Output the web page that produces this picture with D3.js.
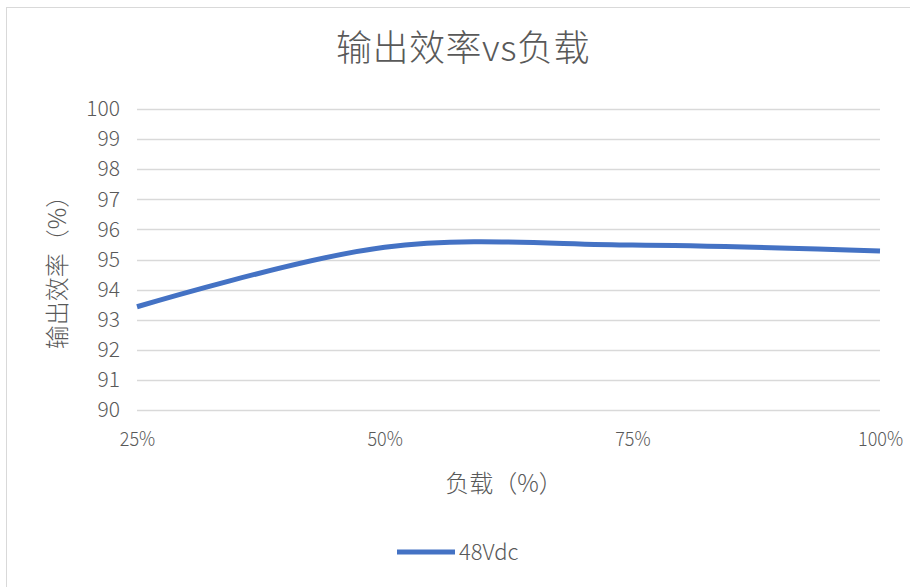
<!DOCTYPE html>
<html><head><meta charset="utf-8">
<script src="https://cdn.jsdelivr.net/npm/d3@7"></script>
<style>
html,body{margin:0;padding:0;background:#fff;overflow:hidden}
text{font-family:"Noto Sans CJK SC","Noto Sans",sans-serif;fill:#595959}
</style></head>
<body><svg id="c" width="910" height="587"></svg>
<script>
const categories = ["25%", "50%", "75%", "100%"];
const seriesName = "48Vdc";
const values = [93.43, 95.41, 95.48, 95.28];
const yTicks = [90, 91, 92, 93, 94, 95, 96, 97, 98, 99, 100];
const titleText = "输出效率vs负载";
const xTitle = "负载（%）";
const yTitle = "输出效率（%）";

const svg = d3.select("#c");
const m = {left: 137, right: 880, top: 109, bottom: 410};

svg.append("rect").attr("x", 6.5).attr("y", 7.5).attr("width", 1000).attr("height", 1000)
  .attr("fill", "none").attr("stroke", "#d9d9d9").attr("stroke-width", 1);

const x = d3.scalePoint().domain(categories).range([m.left, m.right]);
const y = d3.scaleLinear().domain([90, 100]).range([m.bottom, m.top]);

// gridlines
svg.append("g").selectAll("line").data(yTicks).join("line")
  .attr("x1", m.left).attr("x2", m.right)
  .attr("y1", d => Math.round(y(d)) + 0.5).attr("y2", d => Math.round(y(d)) + 0.5)
  .attr("stroke", "#d9d9d9").attr("stroke-width", 1.3);

// y axis labels
const yAxis = d3.axisLeft(y).tickValues(yTicks).tickSize(0).tickPadding(17);
const gy = svg.append("g").attr("transform", `translate(${m.left},0)`).call(yAxis);
gy.select(".domain").remove();
gy.selectAll("text").attr("font-size", 21).attr("font-weight", 300).style("fill", "#595959")
  .attr("font-family", "'Noto Sans','Noto Sans CJK SC',sans-serif");

// x axis labels
const xAxis = d3.axisBottom(x).tickSize(0).tickPadding(22);
const gx = svg.append("g").attr("transform", `translate(0,${m.bottom})`).call(xAxis);
gx.select(".domain").remove();
gx.selectAll("text").attr("font-size", 20).attr("font-weight", 300).style("fill", "#595959")
  .attr("font-family", "'Noto Sans','Noto Sans CJK SC',sans-serif")
  .attr("transform", "scale(0.9,1)");

// line
const line = d3.line().x((d, i) => x(categories[i])).y(d => y(d)).curve(d3.curveCatmullRom.alpha(0));
svg.append("path").datum(values).attr("d", line)
  .attr("fill", "none").attr("stroke", "#4472C4").attr("stroke-width", 5).attr("stroke-linecap", "butt");

// title
svg.append("text").attr("x", 463).attr("y", 61).attr("text-anchor", "middle")
  .attr("font-size", 36).attr("font-weight", 300).attr("letter-spacing", 0.5)
  .style("fill", "#595959").text(titleText);

// axis titles
svg.append("text").attr("x", 504).attr("y", 492).attr("text-anchor", "middle")
  .attr("font-size", 24).attr("font-weight", 300).text(xTitle);
svg.append("text").attr("transform", `translate(66,${(m.top + m.bottom) / 2 + 7}) rotate(-90)`)
  .attr("text-anchor", "middle").attr("font-size", 24).attr("font-weight", 300).text(yTitle);

// legend
svg.append("line").attr("x1", 397).attr("x2", 455).attr("y1", 552).attr("y2", 552)
  .attr("stroke", "#4472C4").attr("stroke-width", 5);
svg.append("text").attr("x", 459).attr("y", 560).attr("font-size", 22).attr("font-weight", 300)
  .attr("font-family", "'Noto Sans',sans-serif").style("fill", "#595959").text(seriesName);
</script></body></html>
